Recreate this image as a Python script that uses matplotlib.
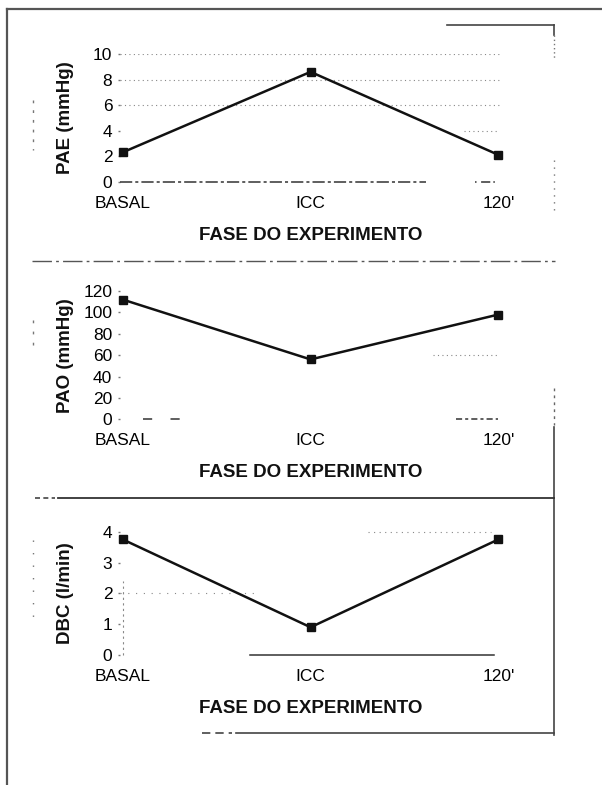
import matplotlib
matplotlib.use('Agg')
import matplotlib.pyplot as plt
from matplotlib.lines import Line2D
import numpy as np

plt.rcParams['font.family'] = ['Liberation Sans', 'DejaVu Sans']

# data
fases = ['BASAL', 'ICC', "120'"]
pae = [2.3, 8.6, 2.1]
pao = [112, 56, 98]
dbc = [3.75, 0.9, 3.75]

pae_ticks = [0, 2, 4, 6, 8, 10]
pao_ticks = [0, 20, 40, 60, 80, 100, 120]
dbc_ticks = [0, 1, 2, 3, 4]

W, H = 602, 785
fig = plt.figure(figsize=(W / 100, H / 100), dpi=100)


def fx(x):
    return x / W


def fy(y):
    return 1 - y / H


def frame_line(x0, y0, x1, y1, ls='-', lw=1.2, color='#444444'):
    fig.add_artist(Line2D([fx(x0), fx(x1)], [fy(y0), fy(y1)], transform=fig.transFigure,
                          color=color, lw=lw, ls=ls))


# panel boxes (pixel top/bottom of the value range)
panels = [
    ('PAE (mmHg)', pae, pae_ticks, 54, 181.7),
    ('PAO (mmHg)', pao, pao_ticks, 291, 419.3),
    ('DBC (l/min)', dbc, dbc_ticks, 531.7, 655),
]

left_px, right_px = 120, 502
axes = []
for label, vals, ticks, top, bot in panels:
    ax = fig.add_axes([fx(left_px), fy(bot), (right_px - left_px) / W, (bot - top) / H])
    x = np.arange(len(fases))
    ax.plot(x, vals, color='#111111', lw=1.8, marker='s', ms=6, clip_on=False, zorder=5)
    ax.set_xlim(-0.0144, 2.019)
    ax.set_ylim(ticks[0], ticks[-1])
    ax.set_yticks(ticks)
    ax.set_xticks(x)
    ax.set_xticklabels(fases)
    for s in ax.spines.values():
        s.set_visible(False)
    ax.tick_params(axis='y', length=1.5, width=1, color='#777777', pad=4,
                   labelsize=12.5, labelcolor='#000000')
    ax.tick_params(axis='x', length=0, pad=10, labelsize=12.5, labelcolor='#000000')
    h = bot - top
    ax.text(0.5, -53.5 / h, 'FASE DO EXPERIMENTO', transform=ax.transAxes,
            ha='center', va='center', fontsize=13.5, fontweight='bold', color='#111111')
    ax.text((65 - left_px) / (right_px - left_px), 0.5, label, transform=ax.transAxes,
            rotation=90, ha='center', va='center', fontsize=13.5, fontweight='bold',
            color='#111111')
    ax.set_facecolor('none')
    axes.append(ax)

ax1, ax2, ax3 = axes

# faint scan remnants of the grid / baselines
for yv in [10, 8, 6]:
    ax1.axhline(yv, color='#888888', lw=0.8, ls=(0, (1, 3)), zorder=1)
ax1.axhline(4, xmin=0.9, xmax=0.99, color='#888888', lw=0.8, ls=(0, (1, 3)))
ax1.axhline(0, xmin=0.0, xmax=0.8, color='#333333', lw=1.1, ls=(0, (8, 2, 2, 2)), clip_on=False)
ax1.axhline(0, xmin=0.93, xmax=0.99, color='#333333', lw=1.1, ls=(0, (1, 3, 6, 2)), clip_on=False)

ax2.axhline(60, xmin=0.82, xmax=0.99, color='#888888', lw=0.8, ls=(0, (1, 3)))
ax2.axhline(0, xmin=0.06, xmax=0.2, color='#333333', lw=1.1, ls=(0, (6, 12)), clip_on=False)
ax2.axhline(0, xmin=0.88, xmax=0.99, color='#333333', lw=1.1, ls=(0, (4, 2, 2, 2)), clip_on=False)

ax3.axhline(4, xmin=0.65, xmax=0.97, color='#888888', lw=0.8, ls=(0, (1, 4)), clip_on=False)
ax3.axhline(2, xmin=0.0, xmax=0.35, color='#888888', lw=0.8, ls=(0, (1, 6)))
ax3.axhline(0, xmin=0.34, xmax=0.98, color='#333333', lw=1.1, clip_on=False)
ax3.axvline(0, ymin=0.0, ymax=0.6, color='#888888', lw=0.8, ls=(0, (2, 3)), clip_on=False)

# outer frame of the scanned page
frame_line(6.7, 9, 6.7, 785, lw=1.6, color='#555555')
frame_line(6.7, 9, 602, 9, lw=1.6, color='#555555')

# panel borders (partly lost in the scan)
frame_line(447, 25, 554, 25, lw=1.2)
frame_line(554, 25, 554, 35, lw=1.2)
frame_line(554, 35, 554, 60, ls=(0, (1, 2)), lw=1.0, color='#777777')
frame_line(554, 160, 554, 215, ls=(0, (1, 4)), lw=1.0, color='#777777')
frame_line(32, 260.7, 555, 260.7, ls=(0, (14, 3, 2, 3)), lw=1.0, color='#555555')
frame_line(554, 388, 554, 425, ls=(0, (2, 3)), lw=1.0, color='#666666')
frame_line(554, 427, 554, 735, lw=1.2, color='#444444')
frame_line(35, 497.7, 55, 497.7, ls=(0, (3, 2)), lw=1.2)
frame_line(58, 497.7, 554, 497.7, lw=1.3, color='#333333')
frame_line(202, 733, 232, 733, ls=(0, (5, 3)), lw=1.2)
frame_line(236, 733, 554, 733, lw=1.2, color='#444444')

# small dashes on the left margin
frame_line(33, 100, 33, 150, ls=(0, (2, 5)), lw=1.0, color='#777777')
frame_line(33, 320, 33, 350, ls=(0, (2, 6)), lw=1.0, color='#777777')
frame_line(33, 540, 33, 620, ls=(0, (1, 8)), lw=1.0, color='#777777')

fig.savefig('out.png', dpi=100)
